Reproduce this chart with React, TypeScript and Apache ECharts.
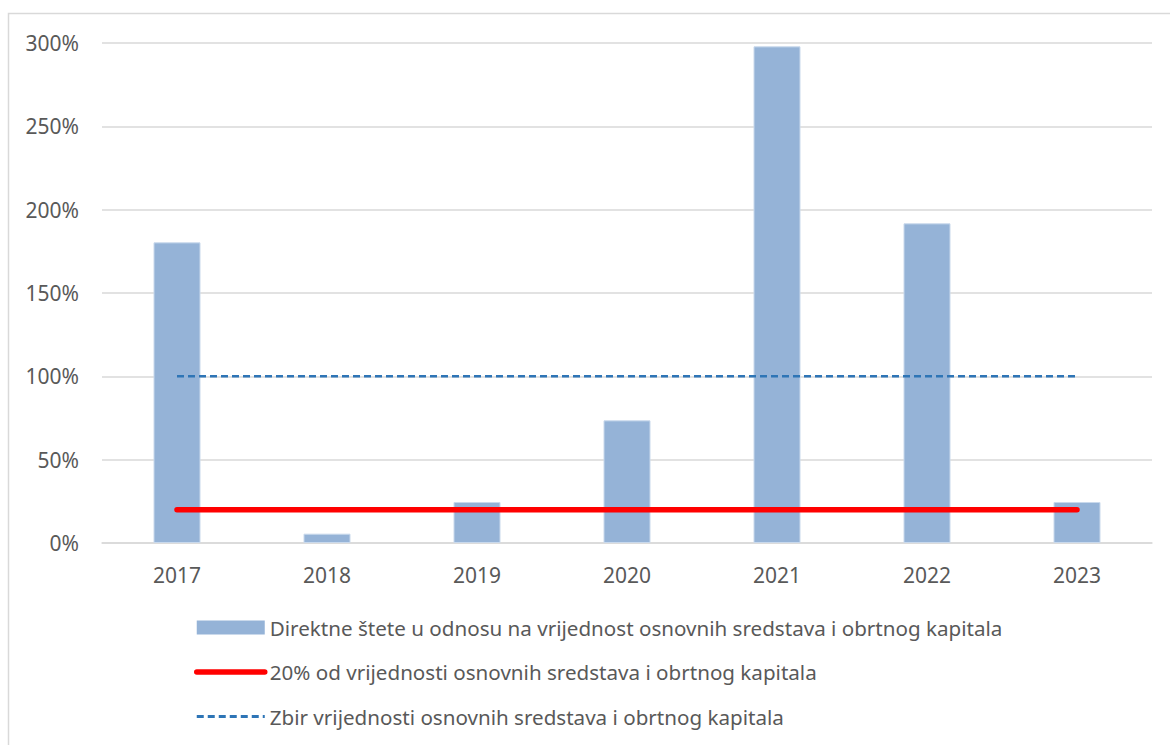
import React, { useEffect, useRef } from "react";
import * as echarts from "echarts";

const years = ["2017", "2018", "2019", "2020", "2021", "2022", "2023"];
const directDamage = [180.4, 5.6, 24.6, 73.6, 298, 191.8, 24.6];
const twentyPercent = [20, 20, 20, 20, 20, 20, 20];
const totalValue = [100, 100, 100, 100, 100, 100, 100];
const seriesNames = [
  "Direktne štete u odnosu na vrijednost osnovnih sredstava i obrtnog kapitala",
  "20% od vrijednosti osnovnih sredstava i obrtnog kapitala",
  "Zbir vrijednosti osnovnih sredstava i obrtnog kapitala",
];

const FONT = "Noto Sans";
const TXT = "#595959";
const HIDE = { color: "rgba(0,0,0,0)", borderColor: "rgba(0,0,0,0)", borderWidth: 0, opacity: 0 };

export default function App() {
  const ref = useRef<HTMLDivElement>(null);
  useEffect(() => {
    if (!ref.current) return;
    const chart = echarts.init(ref.current, null, { renderer: "svg" });
    chart.setOption({
      animation: false,
      backgroundColor: "#ffffff",
      textStyle: { fontFamily: FONT, color: TXT },
      graphic: [
        {
          type: "rect",
          shape: { x: 8.5, y: 13.5, width: 1300, height: 900 },
          style: { fill: "none", stroke: "#d9d9d9", lineWidth: 1.5 },
          silent: true,
        },
      ],
      grid: { left: 102, right: 18, top: 43, bottom: 202, containLabel: false },
      xAxis: {
        type: "category",
        data: years,
        boundaryGap: true,
        axisLine: { show: true, lineStyle: { color: "#d9d9d9", width: 1.5 } },
        axisTick: { show: false },
        axisLabel: { color: TXT, fontFamily: FONT, fontSize: 21, margin: 21 },
      },
      yAxis: {
        type: "value",
        min: 0,
        max: 300,
        interval: 50,
        axisLine: { show: false },
        axisTick: { show: false },
        splitLine: { lineStyle: { color: "#d9d9d9", width: 1.5 } },
        axisLabel: {
          color: TXT,
          fontFamily: FONT,
          fontSize: 21,
          margin: 23,
          formatter: "{value}%",
        },
      },
      legend: {
        orient: "vertical",
        left: 194,
        top: 617,
        padding: 0,
        itemWidth: 68,
        itemHeight: 14,
        itemGap: 23.5,
        itemTextGap: 7,
        textStyle: { color: TXT, fontFamily: FONT, fontSize: 20.6 },
        data: [
          { name: seriesNames[0], icon: "rect", itemStyle: { borderWidth: 0 } },
          { name: seriesNames[1], itemStyle: HIDE, lineStyle: { width: 5.5, cap: "round" } },
          { name: seriesNames[2], itemStyle: HIDE, lineStyle: { width: 2.8, type: [7, 4] } },
        ],
      },
      series: [
        {
          name: seriesNames[0],
          type: "bar",
          data: directDamage,
          barWidth: 47,
          itemStyle: { color: "#95b3d7", borderColor: "#c9d9ec", borderWidth: 1 },
        },
        {
          name: seriesNames[1],
          type: "line",
          data: twentyPercent,
          symbol: "none",
          lineStyle: { color: "#ff0000", width: 5.5, cap: "round" },
          itemStyle: { color: "#ff0000" },
        },
        {
          name: seriesNames[2],
          type: "line",
          data: totalValue,
          symbol: "none",
          lineStyle: { color: "#2e75b6", width: 2.5, type: [7, 4] },
          itemStyle: { color: "#2e75b6" },
        },
      ],
    });
    return () => chart.dispose();
  }, []);
  return (
    <div
      ref={ref}
      style={{ position: "absolute", left: 0, top: 0, width: 1170, height: 745, background: "#fff" }}
    />
  );
}
